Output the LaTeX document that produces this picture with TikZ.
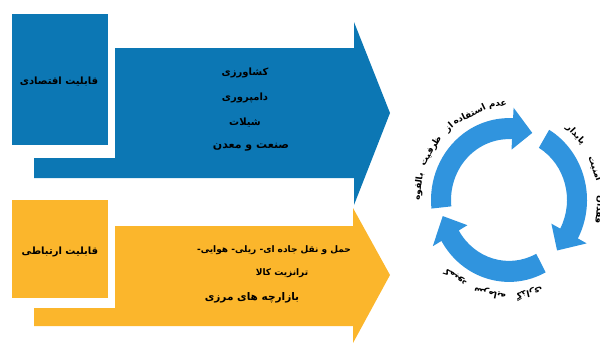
\documentclass[tikz,border=0pt]{standalone}
\usepackage{fontspec}
\newfontfamily\fa[Script=Arabic]{DejaVu Sans}
\TeXXeTstate=1
\definecolor{dblue}{RGB}{12,119,180}
\definecolor{orng}{RGB}{251,182,44}
\definecolor{cblue}{RGB}{48,148,222}
\newcommand\ringarrow[2]{%
  \pgfmathsetmacro\hb{#2+17}%
  \fill[cblue] (#1:78) arc[start angle=#1, end angle=\hb, radius=78]
    -- (\hb:88) -- (#2:68) -- (\hb:48) -- (\hb:58)
    arc[start angle=\hb, end angle=#1, radius=58] -- cycle;}
\begin{document}
\begin{tikzpicture}[x=1pt,y=-1pt,
  lbl/.style={font=\fa\bfseries\fontsize{10}{12}\selectfont, text=black, inner sep=0pt},
  albl/.style={font=\fa\bfseries\fontsize{10}{12}\selectfont, text=black, inner sep=0pt},
  ctext/.style={font=\fa\bfseries\fontsize{9}{11}\selectfont, text=black, inner sep=0pt},
  sidebox/.style={minimum width=96pt, inner sep=0pt}]
\useasboundingbox (0,0) rectangle (600,343);
% blue arrow
\fill[dblue] (115,48) -- (354,48) -- (354,22) -- (390,113) -- (354,205) -- (354,178)
  -- (34,178) -- (34,158) -- (115,158) -- cycle;
\node[sidebox, fill=dblue, minimum height=131pt] (econbox) at (60,79.5) {};
\node[lbl] (econ) at (59,82) {\beginR قابلیت اقتصادی\endR};
\node[albl] (t1) at (245,73) {\beginR کشاورزی\endR};
\node[albl] (t2) at (245,98) {\beginR دامپروری\endR};
\node[albl] (t3) at (245,123) {\beginR شیلات\endR};
\node[albl, font=\fa\bfseries\fontsize{11}{13}\selectfont] (t4) at (251,147) {\beginR صنعت و معدن\endR};
% orange arrow
\fill[orng] (115,226) -- (353,226) -- (353,208) -- (390,275) -- (353,343) -- (353,326)
  -- (34,326) -- (34,308) -- (115,308) -- cycle;
\node[sidebox, fill=orng, minimum height=98pt] (combox) at (60,249) {};
\node[lbl] (com) at (60,252) {\beginR قابلیت ارتباطی\endR};
\node[albl, font=\fa\bfseries\fontsize{9}{11}\selectfont] (o1) at (274,250) {\beginR حمل و نقل جاده ای- ریلی- هوایی-\endR};
\node[albl, font=\fa\bfseries\fontsize{9}{11}\selectfont] (o2) at (282,273) {\beginR ترانزیت کالا\endR};
\node[albl, font=\fa\bfseries\fontsize{10.5}{12}\selectfont] (o3) at (252,298) {\beginR بازارچه های مرزی\endR};
% cycle
\begin{scope}[shift={(509,200)}, y=1.05pt]
\ringarrow{186}{70}
\ringarrow{59}{-45}
\ringarrow{-62}{-167}
\foreach \w/\a [count=\i] in {عدم/97, استفاده/116, از/131, ظرفیت/149, بالقوه/172}
  \node[ctext, rotate=\a-90] (ta\i) at (\a:91) {\beginR\w\endR};
\foreach \w/\a [count=\i] in {فقدان/-6, امنیت/19, پایدار/43}
  \node[ctext, rotate=\a-90] (tb\i) at (\a:91) {\beginR\w\endR};
\foreach \w/\a [count=\i] in {کمبود/234, سرمایه/258, گذاری/283}
  \node[ctext, rotate=\a-90] (tc\i) at (\a:91) {\beginR\w\endR};
\end{scope}
\end{tikzpicture}
\end{document}
